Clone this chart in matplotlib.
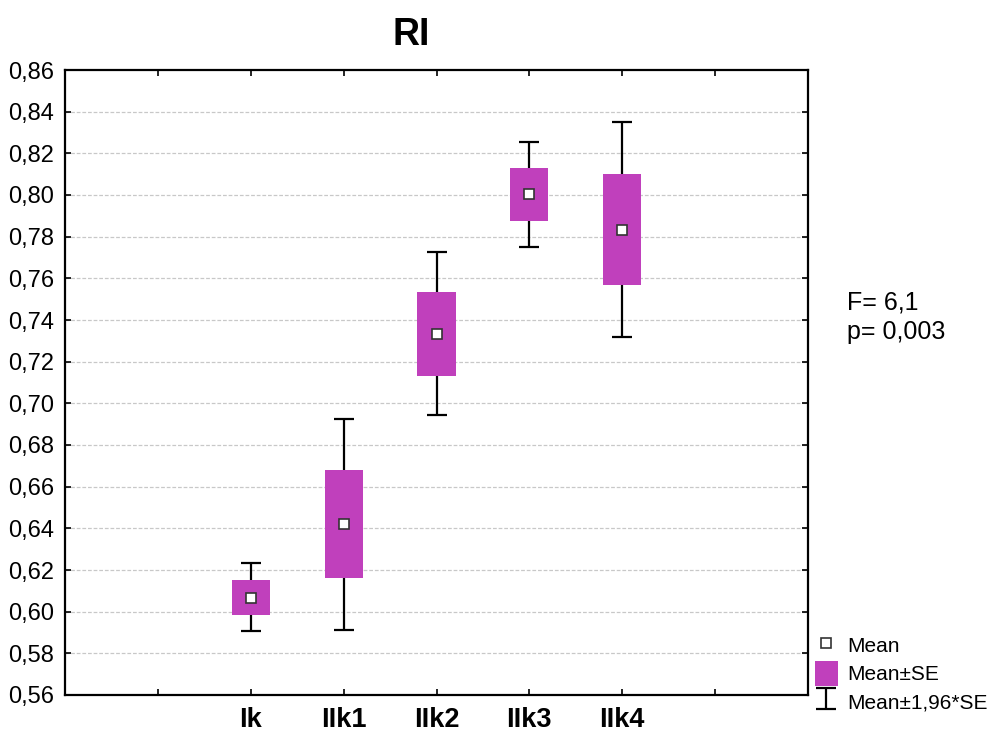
import numpy as np
import matplotlib
matplotlib.use("Agg")
import matplotlib.pyplot as plt

plt.rcParams['font.family'] = ['Liberation Sans', 'DejaVu Sans']

# data
groups = ['Ik', 'IIk1', 'IIk2', 'IIk3', 'IIk4']
mean = [0.6066, 0.6421, 0.7333, 0.8005, 0.7832]
se_low = [0.5984, 0.6162, 0.7131, 0.7875, 0.7568]
se_high = [0.6152, 0.6680, 0.7534, 0.8130, 0.8100]
ci_low = [0.5907, 0.5912, 0.6944, 0.7750, 0.7318]
ci_high = [0.6234, 0.6925, 0.7726, 0.8254, 0.8350]
y_ticks = [0.56, 0.58, 0.60, 0.62, 0.64, 0.66, 0.68, 0.70, 0.72, 0.74,
           0.76, 0.78, 0.80, 0.82, 0.84, 0.86]
f_text = 'F= 6,1\np= 0,003'

box_color = '#c040bc'

fig = plt.figure(figsize=(9.92, 7.33), dpi=100)
ax = fig.add_axes([65/992, 1-695/733, (808-65)/992, (695-70)/733])

x = np.arange(2, 2 + len(groups))
mean = np.array(mean)
ci_low = np.array(ci_low)
ci_high = np.array(ci_high)
se_low = np.array(se_low)
se_high = np.array(se_high)

# grid
for yv in y_ticks[1:-1]:
    ax.axhline(yv, color='#c8c8c8', lw=0.9, ls=(0, (3, 1.5)), zorder=0)

eb = ax.errorbar(x, mean, yerr=[mean - ci_low, ci_high - mean], fmt='none',
                 ecolor='black', elinewidth=1.6, capsize=7, capthick=1.6,
                 zorder=2, label='Mean±1,96*SE')
bars = ax.bar(x, se_high - se_low, bottom=se_low, width=0.41, color=box_color,
              zorder=3, label='Mean±SE')
pts, = ax.plot(x, mean, 's', ms=6.5, mfc='white', mec='#333333', mew=1.2,
               zorder=4, label='Mean', ls='none')

ax.set_xlim(0, 8)
ax.set_ylim(0.56, 0.86)
ax.set_yticks(y_ticks)
ax.set_yticklabels([f'{v:.2f}'.replace('.', ',') for v in y_ticks], fontsize=17)
ax.set_xticks(np.arange(1, 8))
ax.set_xticklabels([''] + groups + [''], fontsize=19.5, fontweight='bold')
ax.tick_params(axis='both', direction='in', length=4, width=1.2,
               top=True, right=True, color='black')
ax.tick_params(axis='y', pad=8)
ax.tick_params(axis='x', pad=8.5)
for s in ax.spines.values():
    s.set_linewidth(1.6)

fig.text(411/992, 1-35/733, 'RI', fontsize=27, fontweight='bold',
         ha='center', va='center')
fig.text(847/992, 1-317/733, f_text, fontsize=18, ha='left', va='center',
         linespacing=1.3)

fig.legend([pts, bars, eb], ['Mean', 'Mean±SE', 'Mean±1,96*SE'],
           loc='lower left', bbox_to_anchor=(815/992, 1-714/733),
           frameon=False, fontsize=15, handlelength=1.1, handleheight=1.5,
           handletextpad=0.45, labelspacing=0.12, borderaxespad=0, borderpad=0)

fig.savefig('out.png', dpi=100)
